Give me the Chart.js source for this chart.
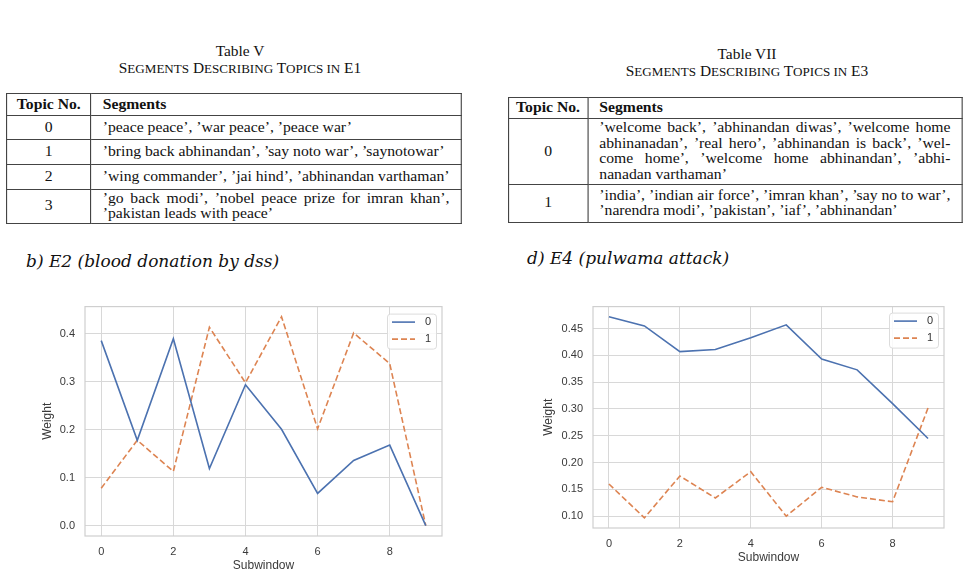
<!DOCTYPE html>
<html>
<head>
<meta charset="utf-8">
<script src="https://cdn.jsdelivr.net/npm/chart.js@4.4.1/dist/chart.umd.min.js"></script>
<style>
  body { margin: 0; width: 970px; height: 577px; position: relative; overflow: hidden; background: #fff; color: #111; font-family: "Liberation Serif", serif; }
  .caption { position: absolute; width: 480px; text-align: center; font-size: 14px; line-height: 17px; transform: scaleX(1.1); }
  .caption small { font-size: 85%; }
  .tbl { position: absolute; transform: scaleX(1.12); transform-origin: 0 0; }
  table { border-collapse: collapse; width: 100%; font-size: 14px; line-height: 15.5px; }
  td, th { border: 1px solid #444; padding: 0 10px; vertical-align: middle; }
  th { font-weight: bold; text-align: left; }
  td.num, th.num { text-align: center; padding: 0 4px; }
  td.seg div { text-align: justify; text-align-last: justify; white-space: nowrap; }
  td.seg div:last-child { text-align-last: left; }
  .heading { position: absolute; font-family: "DejaVu Serif", serif; font-style: italic; font-size: 17px; white-space: nowrap; }
  canvas { position: absolute; }
</style>
</head>
<body>

<div class="caption" style="left:0; top:43px;">Table V<br>S<small>EGMENTS</small> D<small>ESCRIBING</small> T<small>OPICS IN</small> E1</div>
<div class="tbl" id="tblE1" style="left:6px; top:93px; width:407px;"></div>

<div class="caption" style="left:507px; top:46px;">Table VII<br>S<small>EGMENTS</small> D<small>ESCRIBING</small> T<small>OPICS IN</small> E3</div>
<div class="tbl" id="tblE3" style="left:508px; top:97px; width:406px;"></div>

<div class="heading" style="left:26px; top:251px;">b) E2 (blood donation by dss)</div>
<div class="heading" style="left:527px; top:248px;">d) E4 (pulwama attack)</div>

<canvas id="chartE2" width="440" height="287" style="left:30px; top:290px; width:440px; height:287px;"></canvas>
<canvas id="chartE4" width="440" height="287" style="left:530px; top:290px; width:440px; height:287px;"></canvas>

<script>
// ─── Data ─────────────────────────────────────────────────────────

const topicNos = ['0', '1', '2', '3'];

// each segment cell as its printed lines
const e1Segments = [
  ['’peace peace’, ’war peace’, ’peace war’'],
  ['’bring back abhinandan’, ’say noto war’, ’saynotowar’'],
  ['’wing commander’, ’jai hind’, ’abhinandan varthaman’'],
  ['’go back modi’, ’nobel peace prize for imran khan’,', '’pakistan leads with peace’'],
];
const e3Segments = [
  ['’welcome back’, ’abhinandan diwas’, ’welcome home', 'abhinanadan’, ’real hero’, ’abhinandan is back’, ’wel-',
   'come home’, ’welcome home abhinandan’, ’abhi-', 'nanadan varthaman’'],
  ['’india’, ’indian air force’, ’imran khan’, ’say no to war’,', '’narendra modi’, ’pakistan’, ’iaf’, ’abhinandan’'],
];

const subwindows = [0, 1, 2, 3, 4, 5, 6, 7, 8, 9];
const topicLabels = ['0', '1'];

// E2 (blood donation by dss)
const e2Topic0 = [0.386, 0.178, 0.390, 0.119, 0.294, 0.201, 0.067, 0.136, 0.168, 0.000];
const e2Topic1 = [0.078, 0.178, 0.113, 0.414, 0.298, 0.436, 0.202, 0.402, 0.338, 0.000];

// E4 (pulwama attack)
const e4Topic0 = [0.472, 0.455, 0.407, 0.411, 0.433, 0.457, 0.393, 0.373, 0.310, 0.245];
const e4Topic1 = [0.160, 0.097, 0.175, 0.134, 0.183, 0.100, 0.154, 0.136, 0.127, 0.302];

const BLUE = '#4c72b0';
const ORANGE = '#dd8452';

// ─── Tables ───────────────────────────────────────────────────────

function buildTable(el, nos, segs, rowHeights) {
  let html = `<table><colgroup><col style="width:78.6px"><col></colgroup>
    <tr style="height:${rowHeights[0]}px"><th class="num">Topic No.</th><th>Segments</th></tr>`;
  segs.forEach((lines, i) => {
    const cell = lines.map((l) => `<div>${l}</div>`).join('');
    html += `<tr style="height:${rowHeights[i + 1]}px"><td class="num">${nos[i]}</td><td class="seg">${cell}</td></tr>`;
  });
  el.innerHTML = html + '</table>';
}

buildTable(document.getElementById('tblE1'), topicNos, e1Segments, [21.5, 24.5, 25, 24.5, 34]);
buildTable(document.getElementById('tblE3'), topicNos, e3Segments, [21, 65.5, 38]);

// ─── Plugins ──────────────────────────────────────────────────────

// frame round the plot, like the seaborn whitegrid axes
const frame = {
  id: 'frame',
  beforeDatasetsDraw(chart) {
    const { ctx, chartArea: a } = chart;
    ctx.save();
    ctx.strokeStyle = '#cfcfcf';
    ctx.lineWidth = 1.2;
    ctx.strokeRect(a.left, a.top, a.right - a.left, a.bottom - a.top);
    ctx.restore();
  },
};

// matplotlib-style legend in the upper right corner of the plot
const insideLegend = {
  id: 'insideLegend',
  afterDatasetsDraw(chart, args, opts) {
    const { ctx, chartArea: a } = chart;
    const w = 49, h = 35;
    const x = a.right - opts.right - w;
    const y = a.top + opts.top;
    ctx.save();
    ctx.fillStyle = 'rgba(255,255,255,0.85)';
    ctx.strokeStyle = '#dcdcdc';
    ctx.lineWidth = 1;
    ctx.beginPath();
    ctx.roundRect(x + 0.5, y + 0.5, w, h, 3);
    ctx.fill();
    ctx.stroke();
    chart.data.datasets.forEach((ds, i) => {
      const ly = y + 8.5 + i * 17;
      ctx.strokeStyle = ds.borderColor;
      ctx.lineWidth = ds.borderWidth;
      ctx.setLineDash(ds.borderDash || []);
      ctx.beginPath();
      ctx.moveTo(x + 5, ly);
      ctx.lineTo(x + 28, ly);
      ctx.stroke();
      ctx.setLineDash([]);
      ctx.fillStyle = '#333';
      ctx.font = '11px "Liberation Sans"';
      ctx.textAlign = 'left';
      ctx.textBaseline = 'middle';
      ctx.fillText(ds.label, x + 38, ly);
    });
    ctx.restore();
  },
};

// ─── Chart builder ────────────────────────────────────────────────

function points(values) {
  return subwindows.map((s, i) => ({ x: s, y: values[i] }));
}

function buildChart(canvasId, series, cfg) {
  const tickFont = { family: 'Liberation Sans', size: 11 };
  const titleFont = { family: 'Liberation Sans', size: 12 };
  return new Chart(document.getElementById(canvasId), {
    type: 'line',
    data: {
      datasets: [
        { label: topicLabels[0], data: points(series[0]), borderColor: BLUE, borderWidth: 1.6, pointRadius: 0, tension: 0 },
        { label: topicLabels[1], data: points(series[1]), borderColor: ORANGE, borderWidth: 1.6, borderDash: [6, 3], pointRadius: 0, tension: 0 },
      ],
    },
    options: {
      responsive: false,
      animation: false,
      layout: { padding: cfg.padding },
      plugins: {
        legend: { display: false },
        tooltip: { enabled: false },
        insideLegend: cfg.legend,
      },
      scales: {
        x: {
          type: 'linear',
          min: -0.45,
          max: 9.45,
          afterFit: (s) => { s.height = cfg.xHeight; },
          grid: { color: '#d8d8d8', drawTicks: false },
          border: { display: false },
          ticks: { stepSize: 2, includeBounds: false, padding: 9, color: '#3a3a3a', font: tickFont },
          title: { display: true, text: 'Subwindow', color: '#3a3a3a', font: titleFont, padding: { top: 0, bottom: cfg.xTitlePad } },
        },
        y: {
          min: cfg.yMin,
          max: cfg.yMax,
          afterFit: (s) => { s.width = cfg.yWidth; },
          grid: { color: '#d8d8d8', drawTicks: false },
          border: { display: false },
          ticks: {
            stepSize: cfg.yStep,
            includeBounds: false,
            padding: 10,
            color: '#3a3a3a',
            font: tickFont,
            callback: (v) => v.toFixed(cfg.decimals),
          },
          title: { display: true, text: 'Weight', color: '#3a3a3a', font: titleFont, padding: { top: cfg.yTitlePad, bottom: 0 } },
        },
      },
    },
    plugins: [frame, insideLegend],
  });
}

buildChart('chartE2', [e2Topic0, e2Topic1], {
  padding: { left: 0, top: 14, right: 28, bottom: 0 },
  yWidth: 55, xHeight: 41,
  yMin: -0.0218, yMax: 0.457, yStep: 0.1, decimals: 1,
  yTitlePad: 10, xTitlePad: 4,
  legend: { right: 6, top: 7 },
});

buildChart('chartE4', [e4Topic0, e4Topic1], {
  padding: { left: 0, top: 11, right: 26, bottom: 0 },
  yWidth: 63, xHeight: 49,
  yMin: 0.078, yMax: 0.491, yStep: 0.05, decimals: 2,
  yTitlePad: 11, xTitlePad: 12.5,
  legend: { right: 6, top: 6 },
});
</script>
</body>
</html>
